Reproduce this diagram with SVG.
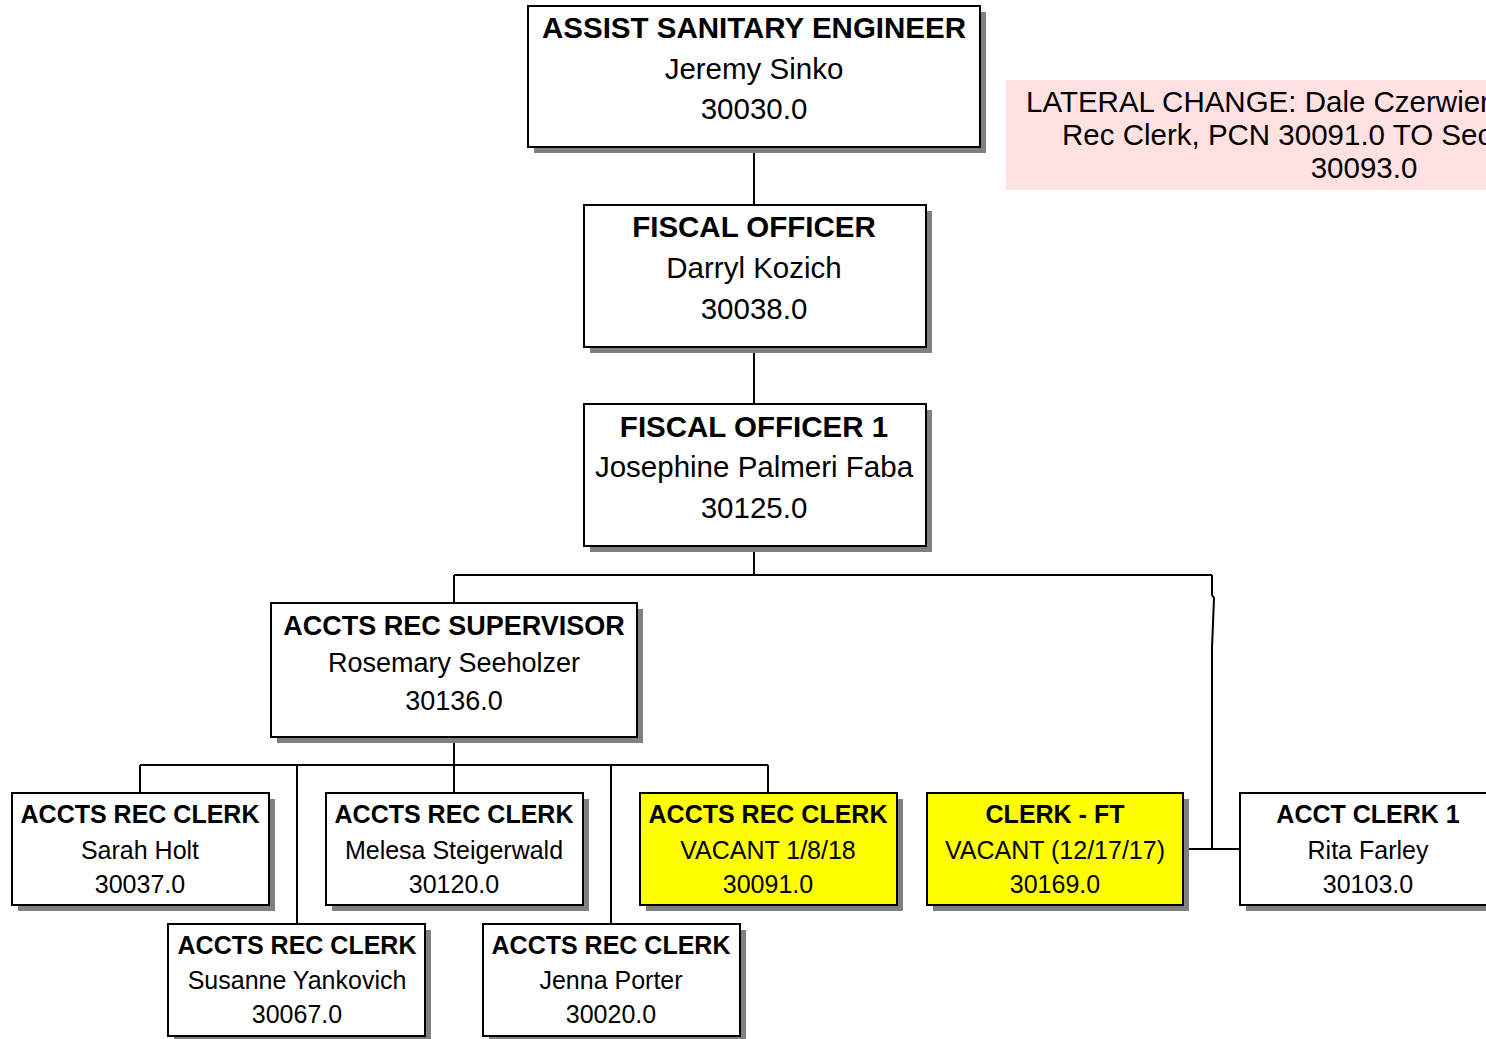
<svg xmlns="http://www.w3.org/2000/svg" width="1486" height="1039" viewBox="0 0 1486 1039">
<style>
.sh{fill:#808080}
.bx{fill:#fff;stroke:#000;stroke-width:2}
.yl{fill:#ffff00;stroke:#000;stroke-width:2}
text{font-family:"Liberation Sans",Arial,sans-serif;fill:#000;text-anchor:middle}
.b{font-weight:bold}
.f1{font-size:29.5px}
.f2{font-size:27px}
.f3{font-size:25px}
.ln{fill:none;stroke:#000;stroke-width:2}
</style>
<rect width="1486" height="1039" fill="#fff"/>
<g id="connectors">
<path class="ln" d="M754 147V205M754 347V404M754 546V575M454 575H1212M454 575V603M1212 575V595L1214 598L1212 648V849M1183 849H1240M454 737V765M140 765H768M140 765V794M297 765V925M454 765V794M611 765V925M768 765V794"/>
</g>
<g id="note">
<rect x="1006" y="80" width="716" height="110" fill="#ffe1e1"/>
<text class="f1" x="1026" y="112" style="text-anchor:start">LATERAL CHANGE: Dale Czerwien</text>
<text class="f1" x="1062" y="145" style="text-anchor:start">Rec Clerk, PCN 30091.0 TO Sec</text>
<text class="f1" x="1364" y="178">30093.0</text>
</g>
<g id="n-engineer">
<rect class="sh" x="534" y="12" width="452" height="141"/>
<rect class="bx" x="528" y="6" width="452" height="141"/>
<text class="f1 b" x="754" y="38">ASSIST SANITARY ENGINEER</text>
<text class="f1" x="754" y="79">Jeremy Sinko</text>
<text class="f1" x="754" y="119">30030.0</text>
</g>
<g id="n-fiscal">
<rect class="sh" x="590" y="211" width="342" height="142"/>
<rect class="bx" x="584" y="205" width="342" height="142"/>
<text class="f1 b" x="754" y="237">FISCAL OFFICER</text>
<text class="f1" x="754" y="278">Darryl Kozich</text>
<text class="f1" x="754" y="319">30038.0</text>
</g>
<g id="n-fiscal1">
<rect class="sh" x="590" y="410" width="342" height="142"/>
<rect class="bx" x="584" y="404" width="342" height="142"/>
<text class="f1 b" x="754" y="437">FISCAL OFFICER 1</text>
<text class="f1" x="754" y="477">Josephine Palmeri Faba</text>
<text class="f1" x="754" y="518">30125.0</text>
</g>
<g id="n-supervisor">
<rect class="sh" x="277" y="609" width="366" height="134"/>
<rect class="bx" x="271" y="603" width="366" height="134"/>
<text class="f2 b" x="454" y="635">ACCTS REC SUPERVISOR</text>
<text class="f2" x="454" y="672">Rosemary Seeholzer</text>
<text class="f2" x="454" y="710">30136.0</text>
</g>
<g id="n-holt">
<rect class="sh" x="18" y="799" width="257" height="112"/>
<rect class="bx" x="12" y="793" width="257" height="112"/>
<text class="f3 b" x="140" y="823">ACCTS REC CLERK</text>
<text class="f3" x="140" y="859">Sarah Holt</text>
<text class="f3" x="140" y="893">30037.0</text>
</g>
<g id="n-steigerwald">
<rect class="sh" x="332" y="799" width="257" height="112"/>
<rect class="bx" x="326" y="793" width="257" height="112"/>
<text class="f3 b" x="454" y="823">ACCTS REC CLERK</text>
<text class="f3" x="454" y="859">Melesa Steigerwald</text>
<text class="f3" x="454" y="893">30120.0</text>
</g>
<g id="n-vacant1">
<rect class="sh" x="646" y="799" width="257" height="112"/>
<rect class="yl" x="640" y="793" width="257" height="112"/>
<text class="f3 b" x="768" y="823">ACCTS REC CLERK</text>
<text class="f3" x="768" y="859">VACANT 1/8/18</text>
<text class="f3" x="768" y="893">30091.0</text>
</g>
<g id="n-clerkft">
<rect class="sh" x="933" y="799" width="256" height="112"/>
<rect class="yl" x="927" y="793" width="256" height="112"/>
<text class="f3 b" x="1055" y="823">CLERK - FT</text>
<text class="f3" x="1055" y="859">VACANT (12/17/17)</text>
<text class="f3" x="1055" y="893">30169.0</text>
</g>
<g id="n-farley">
<rect class="sh" x="1246" y="799" width="257" height="112"/>
<rect class="bx" x="1240" y="793" width="257" height="112"/>
<text class="f3 b" x="1368" y="823">ACCT CLERK 1</text>
<text class="f3" x="1368" y="859">Rita Farley</text>
<text class="f3" x="1368" y="893">30103.0</text>
</g>
<g id="n-yankovich">
<rect class="sh" x="174" y="930" width="257" height="112"/>
<rect class="bx" x="168" y="924" width="257" height="112"/>
<text class="f3 b" x="297" y="954">ACCTS REC CLERK</text>
<text class="f3" x="297" y="989">Susanne Yankovich</text>
<text class="f3" x="297" y="1023">30067.0</text>
</g>
<g id="n-porter">
<rect class="sh" x="489" y="930" width="257" height="112"/>
<rect class="bx" x="483" y="924" width="257" height="112"/>
<text class="f3 b" x="611" y="954">ACCTS REC CLERK</text>
<text class="f3" x="611" y="989">Jenna Porter</text>
<text class="f3" x="611" y="1023">30020.0</text>
</g>
</svg>
